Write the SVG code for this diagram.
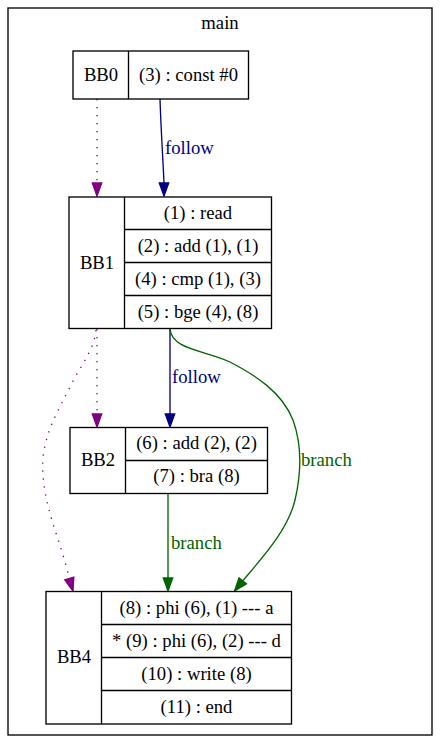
<svg xmlns="http://www.w3.org/2000/svg" width="440" height="743" viewBox="0 0 440 743">
<style>
text{font-family:"Liberation Serif","Times New Roman",serif;font-size:18.67px;fill:#000;text-anchor:middle}
.box{fill:#fff;stroke:#000;stroke-width:1.33}
.ln{stroke:#000;stroke-width:1.33}
.e{fill:none;stroke-width:1.33}
.dot{stroke:#800080;stroke-dasharray:1.33,6.67}
.nav{stroke:#000080}
.grn{stroke:#006400}
.ap{fill:#800080;stroke:#800080;stroke-width:1.33}
.an{fill:#000080;stroke:#000080;stroke-width:1.33}
.ag{fill:#006400;stroke:#006400;stroke-width:1.33}
.lnav{fill:#000080;text-anchor:start}
.lgrn{fill:#006400;text-anchor:start}
</style>
<rect x="0" y="0" width="440" height="743" fill="#fff"/>
<g id="cluster_main">
<rect x="8" y="8" width="424" height="727" fill="none" stroke="#000" stroke-width="1.33"/>
<text x="220" y="29">main</text>
</g>
<g id="edges">
<path class="e dot" d="M97,99 L97,183"/>
<polygon class="ap" points="92.3,183 101.7,183 97,196"/>
<path class="e nav" d="M160,99 C161,130 163,160 164,183"/>
<polygon class="an" points="159.3,183 168.7,183 164,196"/>
<text class="lnav" x="165" y="154">follow</text>

<path class="e dot" d="M97,329 L97,414"/>
<polygon class="ap" points="92.3,414 101.7,414 97,427"/>
<path class="e nav" d="M170,329 L170,414"/>
<polygon class="an" points="165.3,414 174.7,414 170,427"/>
<text class="lnav" x="172" y="383">follow</text>

<path class="e dot" d="M96,330 C94,350 81,365 71,385 C56,415 40,440 43,475 C45,510 62,545 69.3,578.5"/>
<polygon class="ap" points="73.8,577.2 64.8,579.8 73,591"/>
<path class="e grn" d="M170,329 C172,350 205,350 230,362 C255,375 282,392 293,420 C302,445 302,470 295,500 C288,530 262,558 242.7,580.9"/>
<polygon class="ag" points="246.35,583.86 239.05,577.94 234.5,591"/>
<text class="lgrn" x="301" y="466">branch</text>

<path class="e grn" d="M168,494 L168,578"/>
<polygon class="ag" points="163.3,578 172.7,578 168,591"/>
<text class="lgrn" x="171" y="549">branch</text>
</g>
<g id="BB0">
<rect class="box" x="73" y="51" width="175.5" height="48"/>
<line class="ln" x1="128.5" y1="51" x2="128.5" y2="99"/>
<text x="101" y="81">BB0</text>
<text x="188.5" y="81">(3) : const #0</text>
</g>
<g id="BB1">
<rect class="box" x="69" y="197" width="202.5" height="131.5"/>
<line class="ln" x1="124.5" y1="197" x2="124.5" y2="328.5"/>
<line class="ln" x1="124.5" y1="229.5" x2="271.5" y2="229.5"/>
<line class="ln" x1="124.5" y1="262.5" x2="271.5" y2="262.5"/>
<line class="ln" x1="124.5" y1="295.5" x2="271.5" y2="295.5"/>
<text x="97" y="269">BB1</text>
<text x="198" y="219">(1) : read</text>
<text x="198" y="252">(2) : add (1), (1)</text>
<text x="198" y="285">(4) : cmp (1), (3)</text>
<text x="198" y="318">(5) : bge (4), (8)</text>
</g>
<g id="BB2">
<rect class="box" x="70" y="427.5" width="197.5" height="66"/>
<line class="ln" x1="125.5" y1="427.5" x2="125.5" y2="493.5"/>
<line class="ln" x1="125.5" y1="460.5" x2="267.5" y2="460.5"/>
<text x="98" y="466">BB2</text>
<text x="196.5" y="449">(6) : add (2), (2)</text>
<text x="196.5" y="482">(7) : bra (8)</text>
</g>
<g id="BB4">
<rect class="box" x="46" y="591.5" width="245.5" height="132.5"/>
<line class="ln" x1="101.5" y1="591.5" x2="101.5" y2="724"/>
<line class="ln" x1="101.5" y1="624.5" x2="291.5" y2="624.5"/>
<line class="ln" x1="101.5" y1="657.5" x2="291.5" y2="657.5"/>
<line class="ln" x1="101.5" y1="690.5" x2="291.5" y2="690.5"/>
<text x="74" y="663">BB4</text>
<text x="196.5" y="614">(8) : phi (6), (1) --- a</text>
<text x="196.5" y="647">* (9) : phi (6), (2) --- d</text>
<text x="196.5" y="680">(10) : write (8)</text>
<text x="196.5" y="713">(11) : end</text>
</g>
</svg>
